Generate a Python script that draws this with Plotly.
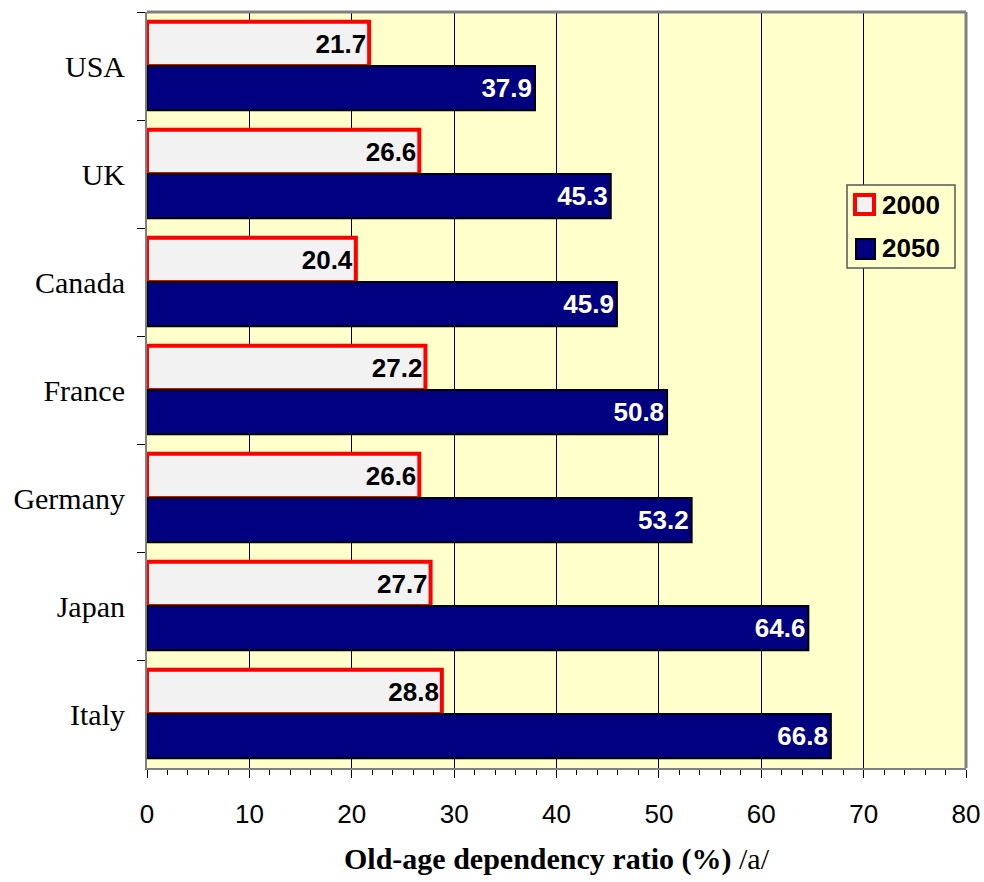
import plotly.graph_objects as go

countries = ["USA", "UK", "Canada", "France", "Germany", "Japan", "Italy"]
y2000 = [21.7, 26.6, 20.4, 27.2, 26.6, 27.7, 28.8]
y2050 = [37.9, 45.3, 45.9, 50.8, 53.2, 64.6, 66.8]
xticks = [0, 10, 20, 30, 40, 50, 60, 70, 80]
series_names = ["2000", "2050"]

W, H = 984, 882
L, R, T, B = 147, 18, 12, 114
PW, PH = W - L - R, H - T - B

def px(xp):
    return (xp - L) / PW

def py(yp):
    return 1 - (yp - T) / PH

fig = go.Figure()
fig.add_trace(go.Bar(
    y=countries, x=y2000, orientation="h", name=series_names[0],
    marker=dict(color="#F2F2F2", line=dict(color="#FF0000", width=4)),
    text=[f"{v:.1f}" for v in y2000], textposition="inside", insidetextanchor="end",
    textfont=dict(family="Liberation Sans, Arial", size=26, color="black", weight="bold"),
    constraintext="none", cliponaxis=False, showlegend=False,
))
fig.add_trace(go.Bar(
    y=countries, x=y2050, orientation="h", name=series_names[1],
    marker=dict(color="#000080", line=dict(color="black", width=2)),
    text=[f"{v:.1f}" for v in y2050], textposition="inside", insidetextanchor="end",
    textfont=dict(family="Liberation Sans, Arial", size=26, color="white", weight="bold"),
    constraintext="none", cliponaxis=False, showlegend=False,
))

fig.update_layout(
    width=W, height=H,
    margin=dict(l=L, r=R, t=T, b=B),
    paper_bgcolor="white", plot_bgcolor="#FFFFCC",
    barmode="group", bargap=0.18, bargroupgap=0.0,
    showlegend=False,
    xaxis=dict(
        range=[0, 80], tickvals=xticks, ticktext=[str(t) for t in xticks],
        automargin=False,
        showgrid=True, gridcolor="black", gridwidth=1, zeroline=False,
        showline=True, linecolor="#808080", linewidth=2,
        ticks="outside", ticklen=8, tickcolor="black", tickwidth=1,
        minor=dict(dtick=2, ticks="outside", ticklen=5, tickcolor="black", showgrid=False),
        tickfont=dict(family="Liberation Sans, Arial", size=26, color="black"),
        ticklabelstandoff=14,
        title=dict(
            text="<b>Old-age dependency ratio (%)</b> /a/",
            font=dict(family="Liberation Serif, Times New Roman", size=30, color="black"),
            standoff=20,
        ),
    ),
    yaxis=dict(
        autorange="reversed", showgrid=False, zeroline=False, automargin=False,
        showline=True, linecolor="#808080", linewidth=2,
        ticks="outside", tickson="boundaries", ticklen=8, tickcolor="black",
        tickfont=dict(family="Liberation Serif, Times New Roman", size=30, color="black"),
        ticklabelstandoff=14,
    ),
)

# gray frame on top and right of plot area
fig.add_shape(type="line", xref="paper", yref="paper", x0=0, x1=1, y0=1, y1=1,
              line=dict(color="#808080", width=3))
fig.add_shape(type="line", xref="paper", yref="paper", x0=1, x1=1, y0=0, y1=1,
              line=dict(color="#808080", width=3))

# legend box (drawn manually to match marker sizes)
fig.add_shape(type="rect", xref="paper", yref="paper",
              x0=px(847), x1=px(955), y0=py(268), y1=py(185),
              fillcolor="#FFFFCC", line=dict(color="#555555", width=1.5))
fig.add_shape(type="rect", xref="paper", yref="paper",
              x0=px(855), x1=px(874), y0=py(214), y1=py(195),
              fillcolor="#F2F2F2", line=dict(color="#FF0000", width=4))
fig.add_shape(type="rect", xref="paper", yref="paper",
              x0=px(856), x1=px(875), y0=py(259), y1=py(239),
              fillcolor="#000080", line=dict(color="black", width=2))
for name, yc in zip(series_names, [205, 248]):
    fig.add_annotation(xref="paper", yref="paper", x=px(880), y=py(yc),
                       text=f"<b>{name}</b>", showarrow=False, xanchor="left", yanchor="middle",
                       font=dict(family="Liberation Sans, Arial", size=26, color="black"))

fig.write_html("out.html")
